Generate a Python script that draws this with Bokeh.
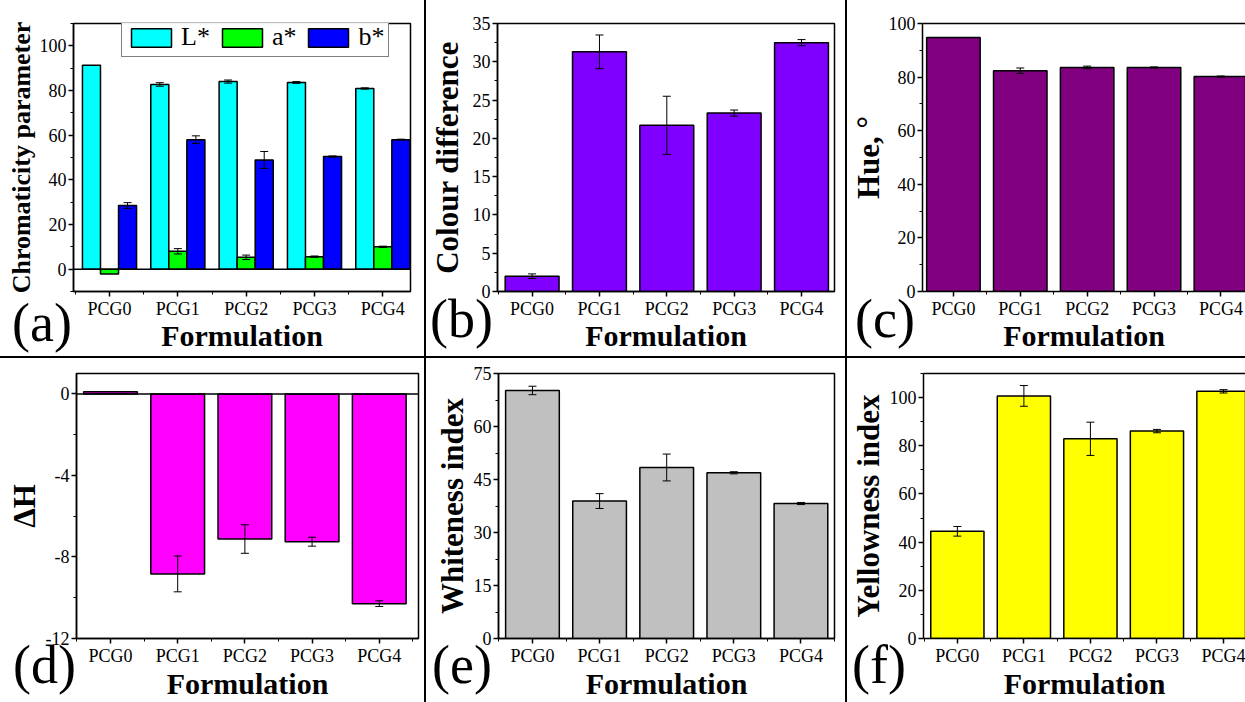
from bokeh.plotting import figure
from bokeh.models import (Range1d, FixedTicker, ColumnDataSource, Whisker, TeeHead,
                          Span, Legend, LegendItem, LinearAxis, Spacer, Div)
from bokeh.layouts import row, column
from bokeh.embed import file_html
from bokeh.resources import INLINE

# ---------------- data ----------------
formulations = ["PCG0", "PCG1", "PCG2", "PCG3", "PCG4"]

L_star = [91.3, 82.7, 84.0, 83.6, 80.9]
L_star_err = [0.0, 0.8, 0.7, 0.4, 0.3]
a_star = [-2.2, 8.0, 5.3, 5.6, 10.0]
a_star_err = [0.0, 1.2, 1.0, 0.3, 0.3]
b_star = [28.5, 58.0, 48.9, 50.4, 58.0]
b_star_err = [1.3, 1.7, 3.8, 0.3, 0.2]

colour_difference = [2.0, 31.3, 21.7, 23.3, 32.5]
colour_difference_err = [0.3, 2.2, 3.8, 0.4, 0.4]

hue = [94.8, 82.4, 83.6, 83.6, 80.2]
hue_err = [0.0, 1.0, 0.5, 0.2, 0.2]

delta_H = [0.1, -8.83, -7.12, -7.25, -10.29]
delta_H_err = [0.0, 0.88, 0.70, 0.22, 0.14]

whiteness_index = [70.2, 38.9, 48.4, 46.9, 38.2]
whiteness_index_err = [1.2, 2.1, 3.8, 0.3, 0.3]

yellowness_index = [44.5, 100.7, 82.9, 86.1, 102.6]
yellowness_index_err = [2.0, 4.3, 6.9, 0.7, 0.7]

panel_letters = ["(a)", "(b)", "(c)", "(d)", "(e)", "(f)"]

FONT = "Liberation Serif"
xpos = list(range(1, len(formulations) + 1))
x_minor = [x - 0.5 for x in xpos] + [xpos[-1] + 0.5]
overrides = {x: name for x, name in zip(xpos, formulations)}


def make_panel(width, height, left, right, top, bottom, xr, yr, y_major, y_minor,
               y_label, y_label_size, y_label_standoff, x_label_standoff, open_right=False):
    p = figure(width=width, height=height, x_range=Range1d(*xr), y_range=Range1d(*yr),
               output_backend="svg", toolbar_location=None,
               min_border_left=left, min_border_right=right,
               min_border_top=top, min_border_bottom=bottom)
    p.xgrid.visible = False
    p.ygrid.visible = False
    p.background_fill_color = "white"
    p.border_fill_color = "white"
    xa = p.below[0]
    ya = p.left[0]
    xa.ticker = FixedTicker(ticks=xpos, minor_ticks=x_minor)
    xa.major_label_overrides = overrides
    xa.axis_label = "Formulation"
    ya.ticker = FixedTicker(ticks=y_major, minor_ticks=y_minor)
    ya.major_label_overrides = {v: str(v) for v in y_major}
    ya.axis_label = y_label
    for ax in (xa, ya):
        ax.axis_line_color = "black"
        ax.axis_line_width = 1.5
        ax.major_tick_line_color = "black"
        ax.major_tick_line_width = 1.5
        ax.minor_tick_line_color = "black"
        ax.minor_tick_line_width = 1
        ax.major_tick_in = 0
        ax.major_tick_out = 5
        ax.minor_tick_in = 0
        ax.minor_tick_out = 3
        ax.major_label_text_font = FONT
        ax.major_label_text_font_size = "18px"
        ax.major_label_text_color = "black"
        ax.major_label_standoff = 2
        ax.axis_label_text_font = FONT
        ax.axis_label_text_font_style = "bold"
        ax.axis_label_text_color = "black"
    xa.axis_label_text_font_size = "30px"
    xa.axis_label_standoff = x_label_standoff
    ya.axis_label_text_font_size = y_label_size
    ya.axis_label_standoff = y_label_standoff
    if open_right:
        p.outline_line_color = None
        top_ax = LinearAxis(ticker=FixedTicker(ticks=[]), major_label_text_font_size="0px",
                            major_tick_line_color=None, minor_tick_line_color=None,
                            axis_line_color="black", axis_line_width=1.5)
        p.add_layout(top_ax, "above")
    else:
        p.outline_line_color = "black"
        p.outline_line_width = 1.5
    return p


def add_errors(p, xs, vals, errs):
    base, lo, up = [], [], []
    for x, v, e in zip(xs, vals, errs):
        if e > 0:
            base.append(x)
            lo.append(v - e)
            up.append(v + e)
    src = ColumnDataSource(dict(base=base, lower=lo, upper=up))
    w = Whisker(source=src, base="base", lower="lower", upper="upper", dimension="height",
                line_color="black", line_width=1,
                upper_head=TeeHead(size=8, line_color="black", line_width=1),
                lower_head=TeeHead(size=8, line_color="black", line_width=1),
                level="annotation")
    p.add_layout(w)


def simple_bars(p, vals, errs, color):
    p.vbar(x=xpos, top=vals, bottom=0, width=0.8, fill_color=color,
           line_color="black", line_width=1.5)
    add_errors(p, xpos, vals, errs)


# ---------------- (a) chromaticity ----------------
pa = make_panel(424, 356, 73, 14, 17, 65, (0.473, 5.405), (-10, 110),
                [0, 20, 40, 60, 80, 100], [-10, 10, 30, 50, 70, 90, 110],
                "Chromaticity parameter", "26px", 1, -3)
bw = 0.264
series = [(L_star, L_star_err, "#00FFFF", "L*", -bw),
          (a_star, a_star_err, "#00FF00", "a*", 0.0),
          (b_star, b_star_err, "#0000FF", "b*", bw)]
items = []
for vals, errs, col, name, off in series:
    xs = [x + off for x in xpos]
    r = pa.vbar(x=xs, top=vals, bottom=0, width=bw, fill_color=col,
                line_color="black", line_width=1.5)
    add_errors(pa, xs, vals, errs)
    items.append(LegendItem(label=name, renderers=[r]))
pa.add_layout(Span(location=0, dimension="width", line_color="black", line_width=1.5))
leg = Legend(items=items, orientation="horizontal", location=(48, 234),
             glyph_width=50, glyph_height=23,
             label_text_font=FONT, label_text_font_size="26px", label_text_color="black",
             padding=4, spacing=7, label_standoff=5,
             border_line_color="black", border_line_width=1.5)
pa.add_layout(leg)

# ---------------- (b) colour difference ----------------
pb = make_panel(419, 356, 67, 11, 23, 65, (0.486, 5.49), (0, 35),
                [0, 5, 10, 15, 20, 25, 30, 35], [2.5, 7.5, 12.5, 17.5, 22.5, 27.5, 32.5],
                "Colour difference", "31px", 5, -3)
simple_bars(pb, colour_difference, colour_difference_err, "#8000FF")

# ---------------- (c) hue ----------------
pc = make_panel(398, 356, 71, 0, 21, 65, (0.538, 5.368), (0, 100),
                [0, 20, 40, 60, 80, 100], [10, 30, 50, 70, 90],
                "Hue, \u00b0", "31px", 0, -3, open_right=True)
simple_bars(pc, hue, hue_err, "#800080")

# ---------------- (d) delta H ----------------
pd_ = make_panel(424, 344, 76, 6, 12, 64, (0.494, 5.584), (-12, 1),
                 [-12, -8, -4, 0], [-10, -6, -2],
                 "\u0394H", "31px", 1, -2)
simple_bars(pd_, delta_H, delta_H_err, "#FF00FF")
pd_.add_layout(Span(location=0, dimension="width", line_color="black", line_width=1.5))

# ---------------- (e) whiteness ----------------
pe = make_panel(419, 344, 72, 11, 15, 64, (0.494, 5.5), (0, 75),
                [0, 15, 30, 45, 60, 75], [7.5, 22.5, 37.5, 52.5, 67.5],
                "Whiteness index", "31px", 1, -2)
simple_bars(pe, whiteness_index, whiteness_index_err, "#C0C0C0")

# ---------------- (f) yellowness ----------------
pf = make_panel(398, 344, 72, 0, 13, 64, (0.491, 5.331), (0, 110),
                [0, 20, 40, 60, 80, 100], [10, 30, 50, 70, 90, 110],
                "Yellowness index", "31px", 1, -2, open_right=True)
simple_bars(pf, yellowness_index, yellowness_index_err, "#FFFF00")


def vsep(h):
    return Spacer(width=2, height=h, styles={"background-color": "black"})


hsep = Spacer(width=1245, height=2, styles={"background-color": "black"})

# panel letters, placed over the figure borders
letter_pos = [(12, 296), (430, 292), (855, 292), (13, 638), (432, 638), (852, 638)]
letters = []
for txt, (lx, ly) in zip(panel_letters, letter_pos):
    letters.append(Div(
        text=f'<span style="font-family: \'{FONT}\'; font-size: 54px; line-height: 1; color: black;">{txt}</span>',
        width=80, height=62, margin=0,
        styles={"position": "absolute", "left": f"{lx}px", "top": f"{ly}px",
                "line-height": "1", "font-size": "54px",
                "font-family": FONT, "z-index": "10"}))

p = column(row(pa, vsep(356), pb, vsep(356), pc, spacing=0),
           hsep,
           row(pd_, vsep(344), pe, vsep(344), pf, spacing=0),
           *letters, spacing=0)

open("out.html", "w").write(file_html(p, INLINE))
